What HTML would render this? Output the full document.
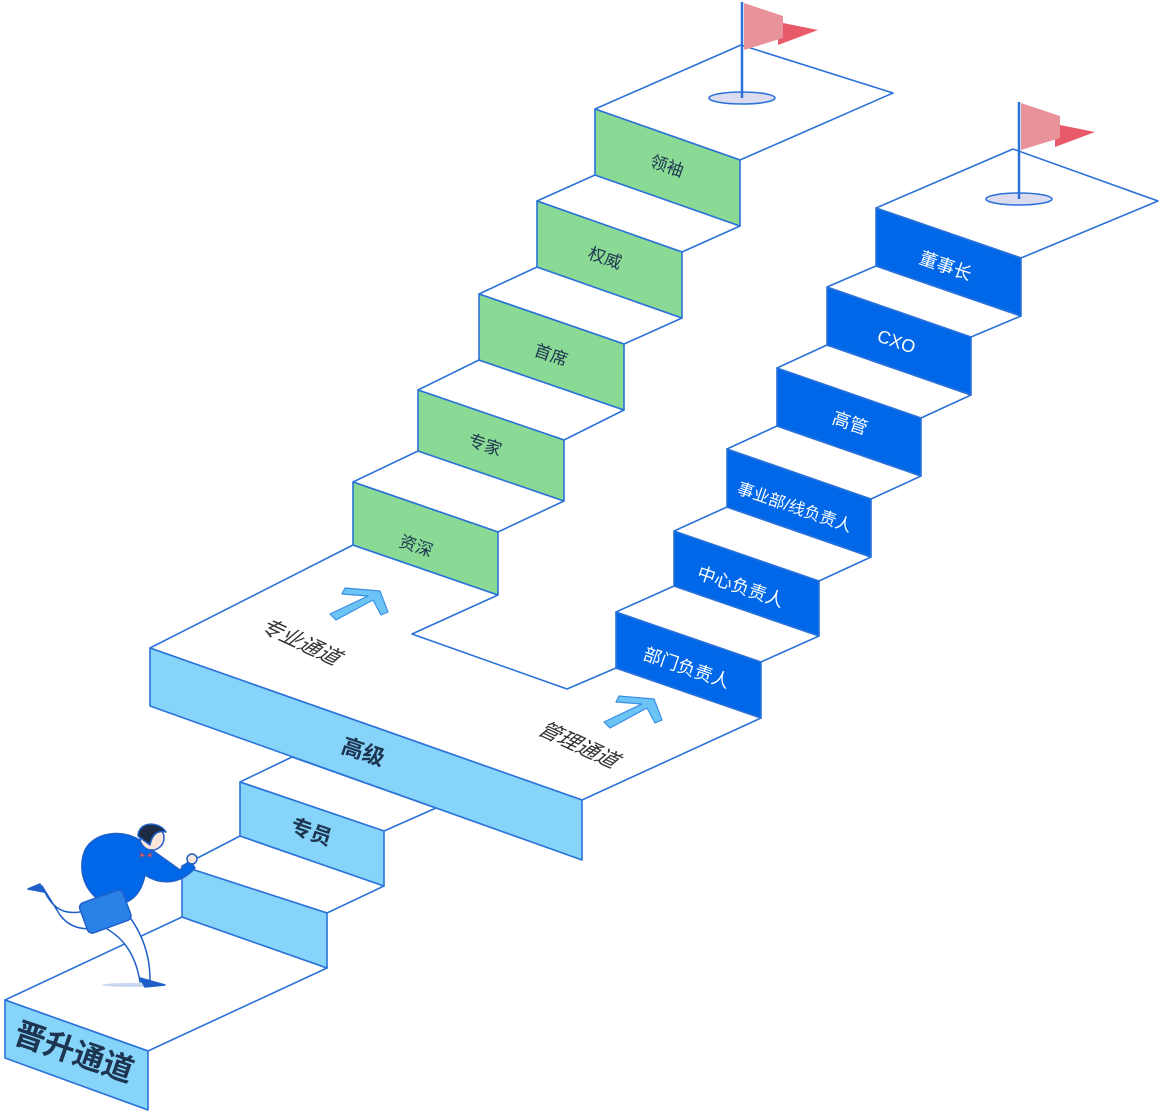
<!DOCTYPE html>
<html><head><meta charset="utf-8"><style>
html,body{margin:0;padding:0;background:#fff;}
svg{display:block}
text{font-family:"Liberation Sans","Noto Sans CJK SC",sans-serif;}
</style></head><body>
<svg width="1161" height="1120" viewBox="0 0 1161 1120" xmlns="http://www.w3.org/2000/svg">
<g stroke="#2b72d8" stroke-width="1.6" stroke-linejoin="round">
<polygon points="5,1000 182,917 327,968 148,1051" fill="#fff"/>
<polygon points="5,1000 148,1051 148,1110 5,1058" fill="#87d4fb"/>
<polygon points="182,866 240,836 384,886 327,913" fill="#fff"/>
<polygon points="182,866 327,913 327,968 182,917" fill="#87d4fb"/>
<polygon points="240,782 292,757 436,808 384,831" fill="#fff"/>
<polygon points="240,782 384,831 384,886 240,836" fill="#87d4fb"/>
<polygon points="150,648 353,545 498,595 412,634 567,689 616,668 761,718 582,800" fill="#fff"/>
<polygon points="150,648 582,800 582,860 150,706" fill="#87d4fb"/>
<polygon points="353,482 418,451 564,501 498,532" fill="#fff"/>
<polygon points="353,482 498,532 498,595 353,545" fill="#8ad994"/>
<polygon points="418,390 479,360 624,410 564,440" fill="#fff"/>
<polygon points="418,390 564,440 564,501 418,451" fill="#8ad994"/>
<polygon points="479,294 537,267 682,318 624,344" fill="#fff"/>
<polygon points="479,294 624,344 624,410 479,360" fill="#8ad994"/>
<polygon points="537,201 595,175 740,226 682,252" fill="#fff"/>
<polygon points="537,201 682,252 682,318 537,267" fill="#8ad994"/>
<polygon points="595,109 741,45 893,93 740,160" fill="#fff"/>
<polygon points="595,109 740,160 740,226 595,175" fill="#8ad994"/>
<polygon points="616,612 761,662 761,718 616,668" fill="#0068e8"/>
<polygon points="616,612 674,586 819,636 761,662" fill="#fff"/>
<polygon points="674,531 819,581 819,636 674,586" fill="#0068e8"/>
<polygon points="674,531 727,507 871,557 819,581" fill="#fff"/>
<polygon points="727,449 871,499 871,557 727,507" fill="#0068e8"/>
<polygon points="727,449 777,426 921,476 871,499" fill="#fff"/>
<polygon points="777,368 921,418 921,476 777,426" fill="#0068e8"/>
<polygon points="777,368 827,345 971,395 921,418" fill="#fff"/>
<polygon points="827,287 971,337 971,395 827,345" fill="#0068e8"/>
<polygon points="827,287 876,266 1021,316 971,337" fill="#fff"/>
<polygon points="876,208 1013,149 1158,201 1021,258" fill="#fff"/>
<polygon points="876,208 1021,258 1021,316 876,266" fill="#0068e8"/>
</g>
<g>
<ellipse cx="742" cy="98" rx="33" ry="6" fill="#dcdcf0" stroke="#2b72d8" stroke-width="1.6"/>
<polygon points="778,22 818,30 778,45" fill="#e85a6a"/>
<polygon points="744,3 783,16 783,38 744,50" fill="#e8929a"/>
<line x1="742" y1="2" x2="742" y2="98" stroke="#2b72d8" stroke-width="2.5"/>
<ellipse cx="1019" cy="199" rx="33" ry="6" fill="#dcdcf0" stroke="#2b72d8" stroke-width="1.6"/>
<polygon points="1055,124 1095,132 1055,147" fill="#e85a6a"/>
<polygon points="1021,103 1060,116 1060,138 1021,150" fill="#e8929a"/>
<line x1="1019" y1="102" x2="1019" y2="199" stroke="#2b72d8" stroke-width="2.5"/>
</g>
<g fill="#6cc4f5" stroke="#3a8ee6" stroke-width="1.2" stroke-linejoin="round">
<path d="M330,614 L368,596 L342,594 L345,588 L380,591 L388,612 L381,615 L373,600 L336,620 Z"/>
<path d="M604,722 L642,704 L616,702 L619,696 L654,699 L662,720 L655,723 L647,708 L610,728 Z"/>
</g>
<g fill="#1d3550">
<text transform="translate(12,1042) rotate(19)" font-size="31" font-weight="bold">晋升通道</text>
<text transform="translate(340,752) rotate(19)" font-size="22" font-weight="bold">高级</text>
<text transform="translate(289,832) rotate(19)" font-size="21" font-weight="bold">专员</text>
<text transform="translate(398,546) rotate(19)" font-size="17">资深</text>
<text transform="translate(467,445) rotate(19)" font-size="17">专家</text>
<text transform="translate(533,355) rotate(19)" font-size="17">首席</text>
<text transform="translate(587,258) rotate(19)" font-size="17">权威</text>
<text transform="translate(649,166) rotate(19)" font-size="17">领袖</text>
<text transform="translate(258,630) rotate(25) skewX(-25)" font-size="21" fill="#333">专业通道</text>
<text transform="translate(536,733) rotate(25) skewX(-25)" font-size="21" fill="#333">管理通道</text>
</g>
<g fill="#fff">
<text transform="translate(642,659) rotate(19)" font-size="18">部门负责人</text>
<text transform="translate(696,578) rotate(19)" font-size="18">中心负责人</text>
<text transform="translate(736,493) rotate(19)" font-size="16.5">事业部/线负责人</text>
<text transform="translate(831,423) rotate(19)" font-size="18">高管</text>
<text transform="translate(876,341) rotate(19)" font-size="18">CXO</text>
<text transform="translate(918,263) rotate(19)" font-size="18">董事长</text>
</g>
<g stroke="#1f5fc8" stroke-width="1.5" stroke-linejoin="round">
<ellipse cx="130" cy="985" rx="28" ry="2" fill="#c9d7f0" stroke="none"/>
<path d="M42,886 C50,905 60,915 80,912 L110,905 L118,920 C100,930 75,935 60,915 Z" fill="#fff"/>
<path d="M40,884 L28,889 L44,892 Z" fill="#1f5fc8"/>
<path d="M115,900 C135,920 150,945 150,980 L140,982 C135,950 120,935 100,925 Z" fill="#fff"/>
<path d="M140,978 L165,985 L145,987 Z" fill="#1f5fc8"/>
<path d="M85,850 C95,830 130,828 145,845 L180,870 L190,860 L195,868 C180,885 160,885 145,875 C140,900 125,905 110,905 C90,900 75,875 85,850 Z" fill="#0068e8"/>
<circle cx="192" cy="859" r="5" fill="#fce6dc"/>
<circle cx="152" cy="838" r="12" fill="#fce6dc"/>
<path d="M138,836 C138,822 158,820 166,832 C158,830 152,834 150,845 Z" fill="#1d2b44"/>
<path d="M140,851 L146,856 L152,851 L152,858 L146,856 L140,858 Z" fill="#e8505a"/>
<rect x="82" y="896" width="46" height="32" rx="5" transform="rotate(-20 104 911)" fill="#2a82e8"/>
</g>
</svg>
</body></html>
